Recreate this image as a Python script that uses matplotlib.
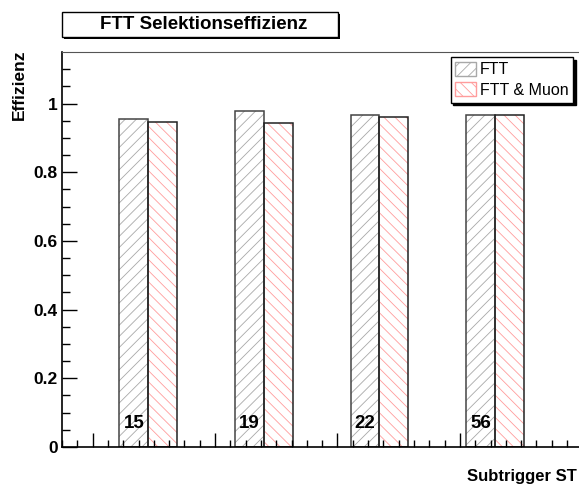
import matplotlib
matplotlib.use('Agg')
import matplotlib.pyplot as plt
import matplotlib.patches as patches
import numpy as np

plt.rcParams['font.family'] = ['Liberation Sans', 'DejaVu Sans']
plt.rcParams['hatch.linewidth'] = 0.6

# Daten
subtrigger = ['15', '19', '22', '56']
eff_ftt = [0.956, 0.977, 0.968, 0.968]
eff_ftt_muon = [0.945, 0.943, 0.960, 0.968]
series_names = ['FTT', 'FTT & Muon']
ytick_labels = ['0', '0.2', '0.4', '0.6', '0.8', '1']

W, H = 579, 488
fig = plt.figure(figsize=(W / 100, H / 100), dpi=100)
ax = fig.add_axes([62 / W, 1 - 447 / H, 1 - 62 / W, (447 - 52) / H])

grey_hatch = '#a8a8a8'
red_hatch = '#ff9c9c'
bw = 0.25
x = np.arange(len(subtrigger))

# schraffierte Balken, danach Rahmen
ax.bar(x, eff_ftt, width=-bw, align='edge', color='white',
       edgecolor=grey_hatch, hatch='///', linewidth=0)
ax.bar(x, eff_ftt_muon, width=bw, align='edge', color='white',
       edgecolor=red_hatch, hatch='\\\\\\', linewidth=0)
ax.bar(x, eff_ftt, width=-bw, align='edge', fill=False,
       edgecolor='#444444', linewidth=1.1)
ax.bar(x, eff_ftt_muon, width=bw, align='edge', fill=False,
       edgecolor='#222222', linewidth=1.1)

for xi, lab in zip(x, subtrigger):
    ax.text(xi - bw / 2, 0.067, lab, ha='center', va='center',
            fontsize=13.5, fontweight='bold')

ax.set_xlim(-0.7465, 3.726)
ax.set_ylim(0, 1.15)

# Achsen im ROOT-Stil
ax.spines['right'].set_visible(False)
ax.spines['top'].set_color('#555555')
ax.spines['left'].set_linewidth(1.2)
ax.spines['bottom'].set_linewidth(1.2)

ax.set_yticks([0, 0.2, 0.4, 0.6, 0.8, 1.0])
ax.set_yticklabels(ytick_labels, fontsize=12.5, fontweight='bold')
ax.set_yticks(np.arange(0, 1.15, 0.05), minor=True)
ax.tick_params(axis='y', which='major', direction='in', length=11, width=1, pad=3)
ax.tick_params(axis='y', which='minor', direction='in', length=6, width=1)

step = 0.1324
x_min = -0.7465
ax.set_xticks([x_min + step * k for k in range(2, 34, 8)])
ax.set_xticks([x_min + step * k for k in range(0, 34)], minor=True)
ax.tick_params(axis='x', which='major', direction='in', length=10, width=1,
               labelbottom=False)
ax.tick_params(axis='x', which='minor', direction='in', length=5, width=1)

# Legende
handles = [patches.Patch(facecolor='white', edgecolor=grey_hatch, hatch='///'),
           patches.Patch(facecolor='white', edgecolor=red_hatch, hatch='\\\\\\')]
leg = fig.legend(handles, series_names, loc='upper right',
                 bbox_to_anchor=(573 / W, 1 - 57 / H), fontsize=11.5,
                 fancybox=False, shadow={'color': 'black', 'alpha': 1},
                 edgecolor='black', framealpha=1, handlelength=1.29,
                 handleheight=1.0, handletextpad=0.23, labelspacing=0.3,
                 borderpad=0.3, borderaxespad=0)
leg.get_frame().set_linewidth(1)

# Titelbox
fig.patches.append(patches.Rectangle((64 / W, 1 - 39 / H), 276 / W, 25 / H,
                                     transform=fig.transFigure, facecolor='black',
                                     edgecolor='none'))
fig.patches.append(patches.Rectangle((62 / W, 1 - 37 / H), 276 / W, 25 / H,
                                     transform=fig.transFigure, facecolor='white',
                                     edgecolor='black', linewidth=1))
fig.text(204 / W, 1 - 24.5 / H, 'FTT Selektionseffizienz', ha='center',
         va='center', fontsize=13.5, fontweight='bold')

fig.text(19 / W, 1 - 50 / H, 'Effizienz', rotation=90, ha='center', va='top',
         fontsize=12.5, fontweight='bold')
fig.text(577 / W, 1 - 477 / H, 'Subtrigger ST', ha='right', va='center',
         fontsize=12, fontweight='bold')

fig.savefig('out.png', dpi=100)
